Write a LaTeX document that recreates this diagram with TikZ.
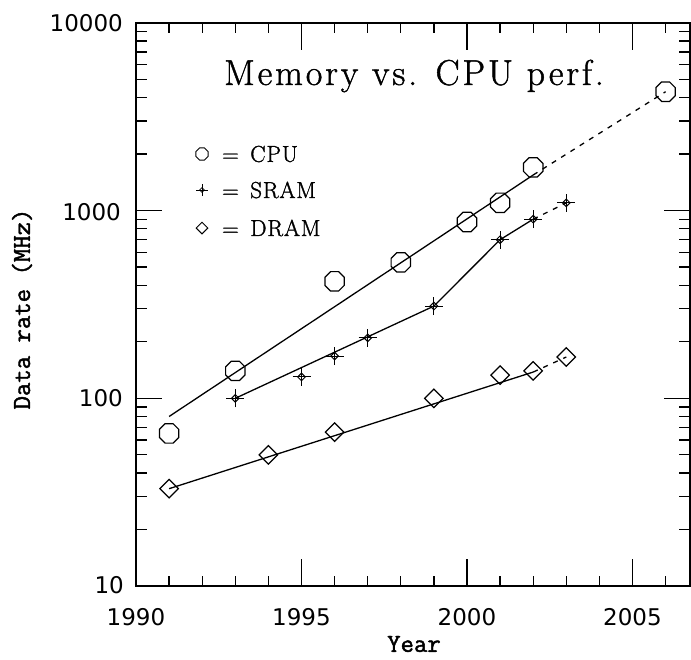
\documentclass[tikz,border=0pt]{standalone}
\usepackage{fontspec}
\newfontfamily\ticklabelfont{DejaVu Sans}
\newfontfamily\axislabelfont{Latin Modern Mono}[FakeBold=1.6]
\newfontfamily\titlefont{Latin Modern Roman}[FakeBold=1.2, LetterSpace=8]
\newfontfamily\keyfont{Latin Modern Roman}[FakeBold=1.4, LetterSpace=4]
\usetikzlibrary{shapes.geometric}
\begin{document}
\begin{tikzpicture}[x=1pt,y=-1pt,
  declare function={px(\t)=136+33.1*(\t-1990); py(\v)=586-187.7*log10(\v/10);},
  frameline/.style={line width=1.3pt},
  dataline/.style={line width=1.3pt},
  extrap/.style={line width=1.3pt, dash pattern=on 5pt off 6pt},
  cpumark/.style={draw, line width=1.2pt, regular polygon, regular polygon sides=8, minimum size=21pt, inner sep=0pt},
  drammark/.style={draw, line width=1.2pt, diamond, minimum size=19pt, inner sep=0pt},
  srammark/.style={draw, line width=1pt, diamond, minimum size=8pt, inner sep=0pt},
  ticklabel/.style={font=\ticklabelfont\fontsize{23}{23}\selectfont, inner sep=0pt},
  axislabel/.style={font=\axislabelfont\fontsize{26}{26}\selectfont, inner sep=0pt},
  legendtext/.style={font=\keyfont\fontsize{23}{23}\selectfont, inner sep=0pt, anchor=west},
]
\useasboundingbox (0,0) rectangle (691,659);

% frame
\draw[frameline] (136,23) rectangle (690,586);

% x ticks (bottom and top)
\foreach \yr in {1991,...,2006}{
  \pgfmathsetmacro\xx{px(\yr)}
  \draw[frameline] (\xx,586) -- (\xx,576);
  \draw[frameline] (\xx,23) -- (\xx,33);
}
\foreach \yr in {1995,2000,2005}{
  \pgfmathsetmacro\xx{px(\yr)}
  \draw[frameline] (\xx,586) -- (\xx,559);
  \draw[frameline] (\xx,23) -- (\xx,50);
}

% y ticks (left and right), logarithmic
\foreach \d in {10,100,1000}{
  \foreach \m in {2,...,9}{
    \pgfmathsetmacro\yy{py(\m*\d)}
    \draw[frameline] (136,\yy) -- (147,\yy);
    \draw[frameline] (690,\yy) -- (679,\yy);
  }
}
\foreach \v in {100,1000}{
  \pgfmathsetmacro\yy{py(\v)}
  \draw[frameline] (136,\yy) -- (162,\yy);
  \draw[frameline] (690,\yy) -- (664,\yy);
}

% tick labels
\node[ticklabel, anchor=east] (l10)    at (124,585) {10};
\node[ticklabel, anchor=east] (l100)   at (123,398) {100};
\node[ticklabel, anchor=east] (l1000)  at (121,212) {1000};
\node[ticklabel, anchor=east] (l10000) at (123,23)  {10000};
\node[ticklabel] (x1990) at (136,617) {1990};
\node[ticklabel] (x1995) at (301.5,617) {1995};
\node[ticklabel] (x2000) at (467,617) {2000};
\node[ticklabel] (x2005) at (632.5,617) {2005};

% axis labels and title
\node[axislabel] (xlab) at (414,644) {Year};
\node[axislabel, rotate=90] (ylab) at (22,309) {Data rate (MHz)};
\node[font=\titlefont\fontsize{36}{36}\selectfont, inner sep=0pt] (title) at (414,76) {Memory vs. CPU perf.};

% legend
\node[cpumark, minimum size=13pt, line width=1pt] (kc) at (202,154) {};
\node[srammark, minimum size=5pt, line width=0.8pt] (ks) at (202,190) {};
\draw[line width=0.8pt] ([yshift=-6pt]ks.center) -- ([yshift=6pt]ks.center)
                        ([xshift=-6pt]ks.center) -- ([xshift=6pt]ks.center);
\node[drammark, minimum size=12pt, line width=1pt] (kd) at (202,228) {};
\node[legendtext] (tc) at (222,154) {=\enspace CPU};
\node[legendtext] (ts) at (222,190) {=\enspace SRAM};
\node[legendtext] (td) at (222,228) {=\enspace DRAM};

% CPU markers
\node[cpumark] (c91) at ({px(1991)},{py(65)}) {};
\node[cpumark] (c93) at ({px(1993)},{py(140)}) {};
\node[cpumark] (c96) at ({px(1996)},{py(420)}) {};
\node[cpumark] (c98) at ({px(1998)},{py(530)}) {};
\node[cpumark] (c00) at ({px(2000)},{py(870)}) {};
\node[cpumark] (c01) at ({px(2001)},{py(1100)}) {};
\node[cpumark] (c02) at ({px(2002)},{py(1700)}) {};
\node[cpumark] (c06) at ({px(2006)},{py(4300)}) {};
% CPU trend line and its extrapolation
\coordinate (cfa) at ({px(1991)},{py(80)});
\coordinate (cfb) at ({px(2002)},{py(1548)});
\draw[dataline] (cfa) -- (cfb);
\draw[extrap] (cfb) -- (c06.center);

% SRAM markers
\node[srammark] (s93) at ({px(1993)},{py(100)}) {};
\node[srammark] (s95) at ({px(1995)},{py(130)}) {};
\node[srammark] (s96) at ({px(1996)},{py(168)}) {};
\node[srammark] (s97) at ({px(1997)},{py(210)}) {};
\node[srammark] (s99) at ({px(1999)},{py(310)}) {};
\node[srammark] (s01) at ({px(2001)},{py(700)}) {};
\node[srammark] (s02) at ({px(2002)},{py(900)}) {};
\node[srammark] (s03) at ({px(2003)},{py(1100)}) {};
\foreach \n in {s93,s95,s96,s97,s99,s01,s02,s03}{
  \draw[line width=1pt] ([yshift=-9pt]\n.center) -- ([yshift=9pt]\n.center)
                        ([xshift=-9pt]\n.center) -- ([xshift=9pt]\n.center);
}
\draw[dataline] (s93.center) -- (s99.center) -- (s01.center) -- (s02.center);
\draw[extrap] (s02.center) -- (s03.center);

% DRAM markers
\node[drammark] (d91) at ({px(1991)},{py(33)}) {};
\node[drammark] (d94) at ({px(1994)},{py(50)}) {};
\node[drammark] (d96) at ({px(1996)},{py(66)}) {};
\node[drammark] (d99) at ({px(1999)},{py(100)}) {};
\node[drammark] (d01) at ({px(2001)},{py(133)}) {};
\node[drammark] (d02) at ({px(2002)},{py(140)}) {};
\node[drammark] (d03) at ({px(2003)},{py(166)}) {};
\coordinate (dfb) at ({px(2002)},{py(138)});
\draw[dataline] (d91.center) -- (dfb);
\draw[extrap] (dfb) -- (d03.center);
\end{tikzpicture}
\end{document}
